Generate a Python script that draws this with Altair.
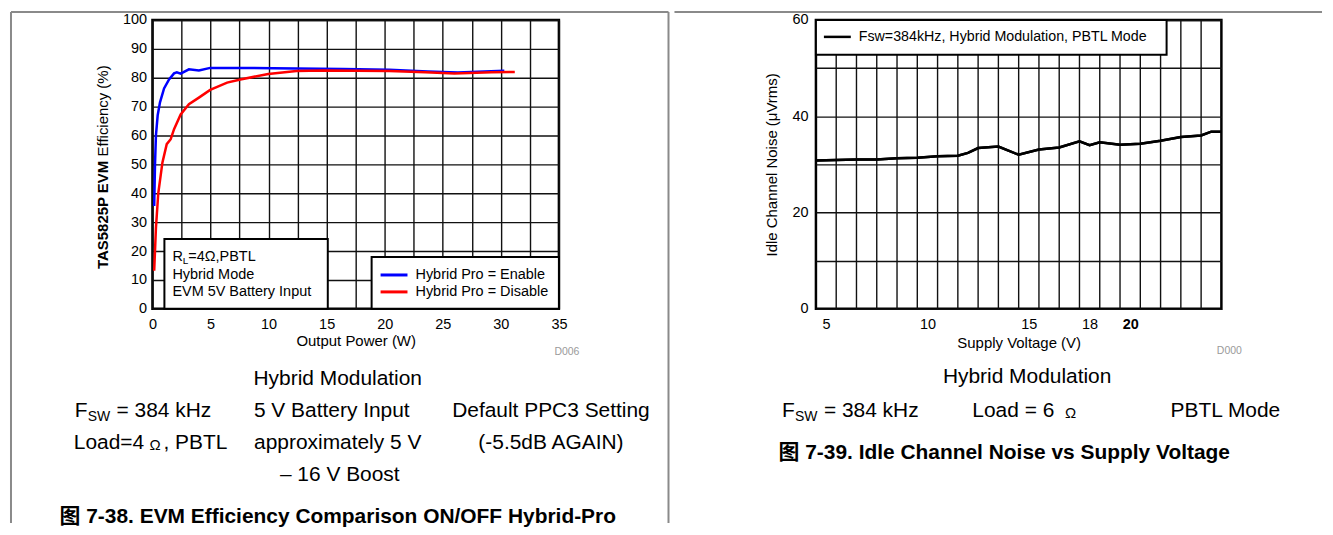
import altair as alt
import pandas as pd

# ---------------- data ----------------
enable_power_w = [0.15, 0.22, 0.3, 0.45, 0.65, 1.0, 1.43, 1.86, 2.1, 2.43, 3.14, 4.0, 4.97, 10.4, 16.4, 20.4, 23.7, 26.3, 30.3]
enable_eff_pct = [35.6, 50.0, 60.0, 67.0, 71.5, 76.3, 79.4, 81.5, 81.9, 81.4, 82.9, 82.5, 83.4, 83.3, 83.0, 82.8, 82.2, 81.8, 82.4]
disable_power_w = [0.15, 0.3, 0.5, 0.86, 1.23, 1.57, 1.86, 2.43, 3.14, 4.0, 4.97, 6.43, 7.57, 9.97, 12.4, 14.7, 20.4, 23.5, 26.0, 29.2, 31.2]
disable_eff_pct = [13.2, 28.0, 40.0, 50.7, 57.0, 58.7, 62.2, 67.3, 70.8, 73.1, 75.8, 78.3, 79.4, 81.3, 82.3, 82.5, 82.3, 81.9, 81.5, 81.9, 82.0]
series_names = ["Hybrid Pro = Enable", "Hybrid Pro = Disable"]
series_colors = ["#0000FF", "#FF0000"]

eff_x_ticks = [0, 2.5, 5, 7.5, 10, 12.5, 15, 17.5, 20, 22.5, 25, 27.5, 30, 32.5, 35]
eff_y_ticks = [0, 10, 20, 30, 40, 50, 60, 70, 80, 90, 100]

noise_supply_v = [4.5, 5.5, 6.5, 7.5, 8.5, 9.5, 10.5, 11.5, 12.0, 12.5, 13.5, 14.5, 15.5, 16.5,
                  17.5, 18.0, 18.5, 19.5, 20.5, 21.5, 22.5, 23.5, 24.0, 24.5]
noise_uvrms = [30.8, 30.9, 31.0, 31.0, 31.3, 31.4, 31.7, 31.8, 32.4, 33.4, 33.7, 32.0, 33.1, 33.5,
               34.8, 34.0, 34.6, 34.1, 34.3, 34.9, 35.7, 36.0, 36.8, 36.8]
noise_x_labels = [5, 10, 15, 18, 20]
noise_x_grid = [5.5, 6.5, 7.5, 8.5, 9.5, 10.5, 11.5, 12.5, 13.5, 14.5, 15.5, 16.5, 17.5, 18.5,
                19.5, 20.5, 21.5, 22.5, 23.5]
noise_y_ticks = [0, 10, 20, 30, 40, 50, 60]

FONT = "Liberation Sans, Arial, Noto Sans CJK SC, sans-serif"
GRID = "#111111"
BORDER = "#8a8a8a"
W1, W2, H = 408, 407, 290

one = pd.DataFrame({"k": [0]})


def label(text, x, y, size=13, weight="normal", align="left", angle=0, color="black"):
    return alt.Chart(one).mark_text(
        text=text, fontSize=size, fontWeight=weight, align=align, angle=angle,
        color=color, baseline="middle", font=FONT
    ).encode(x=alt.value(x), y=alt.value(y))


def box(x, x2, y, y2):
    return alt.Chart(one).mark_rect(fill="white", stroke="black", strokeWidth=2).encode(
        x=alt.value(x), x2=alt.value(x2), y=alt.value(y), y2=alt.value(y2))


def seg(x, x2, y, y2, color, width):
    return alt.Chart(one).mark_rule(color=color, strokeWidth=width).encode(
        x=alt.value(x), x2=alt.value(x2), y=alt.value(y), y2=alt.value(y2))


# ---------------- left panel ----------------
eff_df = pd.concat([
    pd.DataFrame({"power": enable_power_w, "eff": enable_eff_pct, "series": series_names[0]}),
    pd.DataFrame({"power": disable_power_w, "eff": disable_eff_pct, "series": series_names[1]}),
])

x_eff = alt.X("power:Q", scale=alt.Scale(domain=[0, 35], nice=False),
              axis=alt.Axis(values=eff_x_ticks, grid=True, ticks=False, tickSize=0, domain=False,
                            labelExpr="datum.value % 5 == 0 ? datum.label : ''",
                            labelFlush=False, labelOverlap=False, labelPadding=9, labelFontSize=14.5,
                            title="Output Power (W)", titleFontSize=15, titleFontWeight="normal",
                            titlePadding=2))
y_eff = alt.Y("eff:Q", scale=alt.Scale(domain=[0, 100], nice=False),
              axis=alt.Axis(values=eff_y_ticks, grid=True, ticks=False, tickSize=0, domain=False,
                            labelPadding=6, labelFontSize=14.5, title=None))
col_eff = alt.Color("series:N", scale=alt.Scale(domain=series_names, range=series_colors), legend=None)

blue = alt.Chart(eff_df[eff_df.series == series_names[0]]).mark_line(strokeWidth=2.5).encode(
    x=x_eff, y=y_eff, color=col_eff)
red = alt.Chart(eff_df[eff_df.series == series_names[1]]).mark_line(strokeWidth=2.5).encode(
    x=x_eff, y=y_eff, color=col_eff)

left_layers = [
    blue, red,
    # y axis title (bold + normal parts)
    label("TAS5825P EVM", -50, 250, size=15, weight="bold", angle=270),
    label("Efficiency (%)", -50, 137, size=15, angle=270),
    # info box
    box(12, 176, 220, 290),
    label("R", 20, 238, size=14.5),
    label("L", 30.5, 242, size=10),
    label("=4Ω,PBTL", 36, 238, size=14.5),
    label("Hybrid Mode", 20, 256, size=14.5),
    label("EVM 5V Battery Input", 20, 273, size=14.5),
    # legend box
    box(220, 408, 238, 290),
    seg(229, 256, 256, 256, series_colors[0], 3),
    seg(229, 256, 273, 273, series_colors[1], 3),
    label(series_names[0], 264, 256, size=14.5),
    label(series_names[1], 264, 273, size=14.5),
    label("D006", 416, 333, size=10.5, align="center", color="#9a9a9a"),
    # captions
    label("Hybrid Modulation", 186, 360, size=21, align="center"),
    label("F", -78, 393, size=21),
    label("SW", -65, 399, size=14),
    label("= 384 kHz", -36, 393, size=21),
    label("5 V Battery Input", 180, 393, size=21, align="center"),
    label("Default PPC3 Setting", 400, 393, size=21, align="center"),
    label("Load=4", -79, 425, size=21),
    label("Ω", -3, 427, size=15),
    label(", PBTL", 11, 425, size=21),
    label("approximately 5 V", 186, 425, size=21, align="center"),
    label("(-5.5dB AGAIN)", 400, 425, size=21, align="center"),
    label("–  16 V Boost", 188, 457, size=21, align="center"),
    label("图 7-38. EVM Efficiency Comparison ON/OFF Hybrid-Pro", 186, 499, size=21,
          weight="bold", align="center"),
    # panel borders
    seg(-142, 518, -8, -8, BORDER, 2),
    seg(-142, -142, -8, 505, BORDER, 2),
    seg(518, 518, -8, 505, BORDER, 2),
]
left = alt.layer(*left_layers).properties(width=W1, height=H)

# ---------------- right panel ----------------
noise_df = pd.DataFrame({"volt": noise_supply_v, "noise": noise_uvrms})
grid_df = pd.DataFrame({"volt": noise_x_grid})

x_noise = alt.X("volt:Q", scale=alt.Scale(domain=[4.5, 24.5], nice=False, zero=False),
                axis=alt.Axis(values=noise_x_labels, grid=False, ticks=False, tickSize=0, domain=False,
                              labelFlush=False, labelOverlap=False, labelPadding=9, labelFontSize=14.5,
                              labelFontWeight={"condition": {"test": "datum.value == 20", "value": "bold"},
                                               "value": "normal"},
                              title="Supply Voltage (V)", titleFontSize=15, titleFontWeight="normal",
                              titlePadding=4))
y_noise = alt.Y("noise:Q", scale=alt.Scale(domain=[0, 60], nice=False),
                axis=alt.Axis(values=noise_y_ticks, grid=True, ticks=False, tickSize=0, domain=False,
                              labelExpr="datum.value % 20 == 0 ? datum.label : ''",
                              labelPadding=8, labelFontSize=14.5,
                              title="Idle Channel Noise  (μVrms)", titleFontSize=15,
                              titleFontWeight="normal", titlePadding=12))

vgrid = alt.Chart(grid_df).mark_rule(color=GRID, strokeWidth=1.4).encode(x=x_noise)
noise_line = alt.Chart(noise_df).mark_line(color="black", strokeWidth=2.5).encode(x=x_noise, y=y_noise)

right_layers = [
    noise_line, vgrid, noise_line,
    box(0, 352, 0, 35),
    seg(8, 35, 17, 17, "black", 2.5),
    label("Fsw=384kHz, Hybrid Modulation, PBTL Mode", 43, 17, size=14.3),
    label("D000", 415, 332, size=10.5, align="center", color="#9a9a9a"),
    label("Hybrid Modulation", 212, 358, size=21, align="center"),
    label("F", -34, 393, size=21),
    label("SW", -21, 399, size=14),
    label("= 384 kHz", 8, 393, size=21),
    label("Load = 6", 157, 393, size=21),
    label("Ω", 250, 395, size=15),
    label("PBTL Mode", 356, 393, size=21),
    label("图 7-39. Idle Channel Noise vs Supply Voltage", 189, 435, size=21,
          weight="bold", align="center"),
    seg(-142, 508, -8, -8, BORDER, 2),
]
right = alt.layer(*right_layers).properties(width=W2, height=H)

chart = alt.hconcat(left, right, spacing=0).properties(padding=0).configure_view(
    stroke="black", strokeWidth=2.5
).configure_axis(
    gridColor=GRID, gridWidth=1.4, gridOpacity=1, labelColor="black", titleColor="black",
    labelFont=FONT, titleFont=FONT
)

chart.save("out.html", embed_options={"renderer": "svg", "actions": False})
